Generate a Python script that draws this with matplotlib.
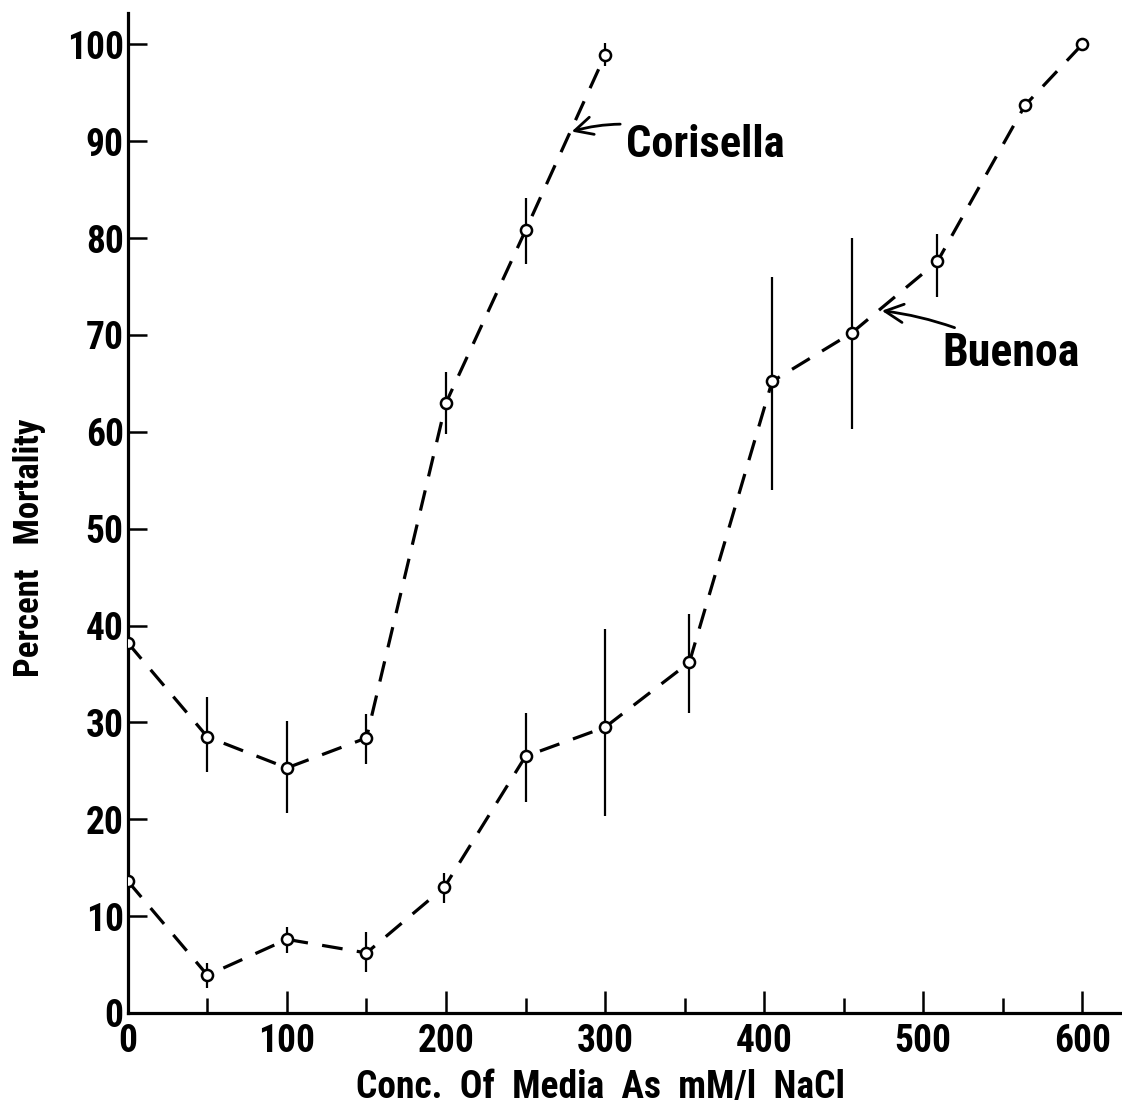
import matplotlib
matplotlib.use("Agg")
import matplotlib.pyplot as plt

# Corisella
cor_x = [0, 50, 100, 150, 200, 250, 300]
cor_y = [38.2, 28.5, 25.3, 28.4, 63.0, 80.8, 98.9]
cor_lo = [35.5, 24.9, 20.6, 25.7, 59.8, 77.3, 97.8]
cor_hi = [41.5, 32.6, 30.1, 30.9, 66.2, 84.1, 100.1]

# Buenoa
bue_x = [0, 50, 100, 150, 199, 250, 300, 353, 405, 455, 509, 564, 600]
bue_y = [13.6, 3.9, 7.6, 6.2, 13.0, 26.5, 29.5, 36.2, 65.2, 70.2, 77.6, 93.7, 100.0]
bue_lo = [10.5, 2.6, 6.2, 4.2, 11.4, 21.8, 20.3, 31.0, 54.0, 60.3, 73.9, 93.7, 100.0]
bue_hi = [18.5, 5.2, 8.9, 8.4, 14.5, 31.0, 39.6, 41.2, 76.0, 80.0, 80.4, 93.7, 100.0]

x_major = [0, 100, 200, 300, 400, 500, 600]
x_minor = [50, 150, 250, 350, 450, 550]
y_ticks = [0, 10, 20, 30, 40, 50, 60, 70, 80, 90, 100]

plt.rcParams['font.family'] = ['Roboto Condensed', 'Liberation Sans Narrow',
                               'Liberation Sans', 'DejaVu Sans']
plt.rcParams['font.weight'] = 'bold'
plt.rcParams['axes.labelweight'] = 'bold'

fig = plt.figure(figsize=(11.22, 11.15), dpi=100)
ax = fig.add_axes([0.114, 0.0915, 0.886, 0.8965])

dash = (0, (6.5, 4.5))
for xs, ys, lo, hi in [(cor_x, cor_y, cor_lo, cor_hi), (bue_x, bue_y, bue_lo, bue_hi)]:
    ax.vlines(xs, lo, hi, color='black', lw=1.6, zorder=2)
    ax.plot(xs, ys, color='black', lw=2.3, linestyle=dash, zorder=3)
    ax.plot(xs, ys, linestyle='none', marker='o', ms=8, mfc='white',
            mec='black', mew=1.8, zorder=4)

# labels with arrows
ax.annotate('Corisella', xy=(279, 91), xytext=(313, 89.6), fontsize=32,
            va='center', ha='left',
            arrowprops=dict(arrowstyle='->', lw=2, color='black',
                            connectionstyle='arc3,rad=0.2', shrinkA=2, shrinkB=0))
ax.annotate('Buenoa', xy=(474, 72.5), xytext=(512, 68.1), fontsize=33,
            va='center', ha='left',
            arrowprops=dict(arrowstyle='->', lw=2, color='black',
                            connectionstyle='arc3,rad=0.1', shrinkA=2, shrinkB=0))

ax.set_xlim(0, 625)
ax.set_ylim(0, 103.2)
ax.spines['top'].set_visible(False)
ax.spines['right'].set_visible(False)
ax.spines['left'].set_linewidth(2.3)
ax.spines['bottom'].set_linewidth(2.3)

ax.set_xticks(x_major)
ax.set_xticks(x_minor, minor=True)
ax.set_yticks(y_ticks)
ax.tick_params(axis='x', which='major', direction='in', length=16, width=1.8,
               labelsize=27, pad=7)
ax.tick_params(axis='x', which='minor', direction='in', length=11, width=1.8)
ax.tick_params(axis='y', direction='in', length=14, width=1.8, labelsize=27, pad=3)

ax.set_xlabel('Conc.  Of  Media  As  mM/l  NaCl', fontsize=27)
ax.set_ylabel('Percent   Mortality', fontsize=25)
ax.xaxis.set_label_coords(0.475, -0.056)
ax.yaxis.set_label_coords(-0.082, 0.465)

fig.savefig('out.png', dpi=100)
